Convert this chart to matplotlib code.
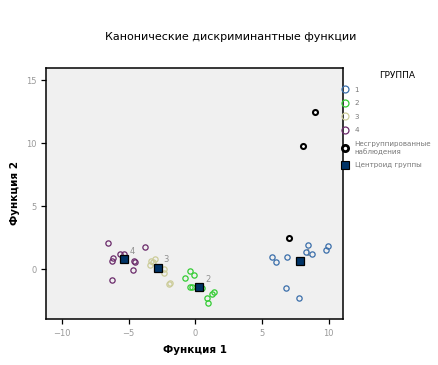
import matplotlib.pyplot as plt
from matplotlib.lines import Line2D

# canonical discriminant scores per group
g1_x = [5.75, 6.02, 6.87, 8.45, 8.3, 8.75, 9.77, 9.95, 6.82, 7.8]
g1_y = [0.95, 0.56, 0.95, 1.9, 1.35, 1.19, 1.53, 1.88, -1.51, -2.3]
g2_x = [-0.37, -0.12, -0.8, -0.42, -0.25, 0.52, 1.37, 1.27, 0.87, 0.95]
g2_y = [-0.1, -0.45, -0.69, -1.38, -1.38, -1.48, -1.83, -1.93, -2.25, -2.67]
g3_x = [-3.3, -3.05, -3.4, -3.2, -2.35, -2.37, -2.0, -1.87]
g3_y = [0.63, 0.79, 0.37, 0.6, 0.03, -0.29, -1.14, -1.11]
g4_x = [-6.52, -3.77, -5.65, -5.32, -6.15, -6.25, -4.57, -4.5, -4.7, -6.25]
g4_y = [2.06, 1.75, 1.22, 1.24, 0.9, 0.63, 0.69, 0.6, -0.05, -0.85]
ungrouped_x = [8.97, 8.07, 7.0]
ungrouped_y = [12.5, 9.8, 2.5]
centroid_x = [7.85, 0.3, -2.82, -5.37]
centroid_y = [0.63, -1.43, 0.13, 0.79]
group_names = ['1', '2', '3', '4']
group_colors = ['#3a6eaa', '#33cc33', '#cccc99', '#6a2a6a']

fig = plt.figure(figsize=(4.39, 3.65), dpi=100)
ax = fig.add_axes([0.105, 0.126, 0.677, 0.688])
ax.set_facecolor('#f0f0f0')

groups = [(g1_x, g1_y), (g2_x, g2_y), (g3_x, g3_y), (g4_x, g4_y)]
for (gx, gy), col in zip(groups, group_colors):
    ax.plot(gx, gy, 'o', ms=3.8, mfc='none', mec=col, mew=0.9, zorder=3)

# centroid labels sit under the points
for cx, cy, name in zip(centroid_x, centroid_y, group_names):
    ax.annotate(name, (cx, cy), xytext=(4, 4), textcoords='offset points',
                fontsize=6, color='#909090', zorder=2)

ax.plot(ungrouped_x, ungrouped_y, 'o', ms=3.6, mfc='white', mec='black', mew=1.5, zorder=4)
ax.plot(centroid_x, centroid_y, 's', ms=5.5, mfc='#003366', mec='black', mew=0.9, zorder=5)

ax.set_xlim(-11.2, 11.1)
ax.set_ylim(-3.95, 16.0)
ax.set_xticks([-10, -5, 0, 5, 10])
ax.set_yticks([0, 5, 10, 15])
ax.tick_params(labelsize=6, labelcolor='#999999', length=3.5, width=0.9)
for s in ax.spines.values():
    s.set_linewidth(1.1)

ax.set_xlabel('Функция 1', fontsize=7.5, fontweight='bold', labelpad=5)
ax.set_ylabel('Функция 2', fontsize=7.5, fontweight='bold', labelpad=4)
fig.text(0.525, 0.89, 'Канонические дискриминантные функции', ha='center', fontsize=8)

handles = [Line2D([], [], ls='none', marker='o', ms=5, mfc='none', mec=c, mew=0.9)
           for c in group_colors]
handles.append(Line2D([], [], ls='none', marker='o', ms=4.5, mfc='white', mec='black', mew=2))
handles.append(Line2D([], [], ls='none', marker='s', ms=5.5, mfc='#003366', mec='black', mew=0.8))
labels = group_names + ['Несгруппированные\nнаблюдения', 'Центроид группы']
leg = fig.legend(handles, labels, loc='upper left',
                 bbox_to_anchor=(0.777, 0.762), frameon=False, fontsize=5.1,
                 handletextpad=0.9, labelspacing=1.05,
                 handlelength=1.0, borderaxespad=0, borderpad=0)
for t in leg.get_texts():
    t.set_color('#777777')
fig.text(0.904, 0.792, 'ГРУППА', ha='center', va='center', fontsize=6.5)

fig.savefig('out.png', dpi=100)
